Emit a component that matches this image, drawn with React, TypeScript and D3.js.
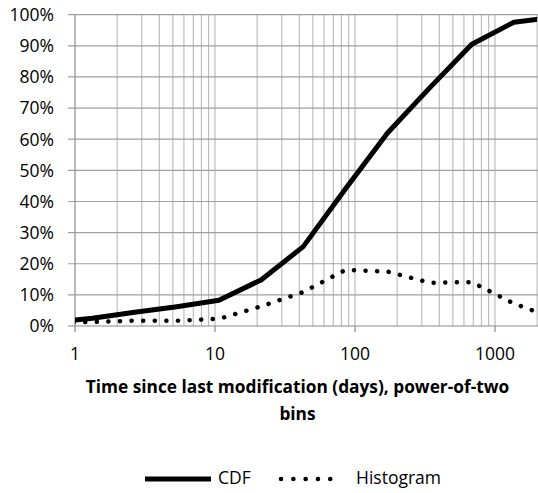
import React, { useEffect } from "react";
import * as d3 from "d3";

// x values: power-of-two bins in hours, expressed in days
const binDays = [0.667, 1.333, 2.667, 5.333, 10.667, 21.333, 42.667, 85.333, 170.667, 341.333, 682.667, 1365.333, 2730.667];
const cdfValues = [0.012, 0.025, 0.044, 0.062, 0.083, 0.148, 0.255, 0.44, 0.62, 0.765, 0.905, 0.976, 0.993];
const histValues = [0.011, 0.013, 0.017, 0.017, 0.023, 0.063, 0.109, 0.18, 0.175, 0.139, 0.141, 0.072, 0.023];
const yTicks = [0, 0.1, 0.2, 0.3, 0.4, 0.5, 0.6, 0.7, 0.8, 0.9, 1.0];
const xMajorTicks = [1, 10, 100, 1000];
const xTitleLines = ["Time since last modification (days), power-of-two", "bins"];
const seriesNames = ["CDF", "Histogram"];

const W = 538;
const H = 493;
const left = 75;
const top = 14.7;
const bottom = 326;
const xMax = 2000;
const right = left + 140 * Math.log10(xMax);

export default function App() {
  useEffect(() => {
    document.body.style.margin = "0";
  }, []);

  const x = d3.scaleLog().domain([1, xMax]).range([left, right]);
  const y = d3.scaleLinear().domain([0, 1]).range([bottom, top]);

  const minorTicks: number[] = [];
  for (let d = 1; d <= 1000; d *= 10) {
    for (let m = 1; m <= 9; m++) {
      const v = d * m;
      if (v > 1 && v <= xMax) minorTicks.push(v);
    }
  }

  const line = d3
    .line<number>()
    .x((_, i) => x(binDays[i]))
    .y((v) => y(v));

  const font = "'Open Sans', sans-serif";
  const axis = "#8a8a8a";

  return (
    <svg width={W} height={H} style={{ display: "block", background: "#fff" }}>
      <defs>
        <clipPath id="plot">
          <rect x={left} y={0} width={right - left} height={bottom} />
        </clipPath>
      </defs>
      {minorTicks.map((v) => (
        <line key={"v" + v} x1={x(v)} x2={x(v)} y1={top} y2={bottom} stroke="#bdbdbd" strokeWidth={1.2} />
      ))}
      {yTicks.map((t) => (
        <line key={"h" + t} x1={left - 7} x2={W} y1={y(t)} y2={y(t)} stroke={t === 0 ? axis : "#a0a0a0"} strokeWidth={1.2} />
      ))}
      <line x1={left} x2={left} y1={top} y2={bottom} stroke={axis} strokeWidth={1.2} />
      {xMajorTicks.map((t) => (
        <line key={"xt" + t} x1={x(t)} x2={x(t)} y1={bottom} y2={bottom + 6} stroke={axis} strokeWidth={1.2} />
      ))}
      {yTicks.map((t) => (
        <text key={"yl" + t} x={54} y={y(t)} dy="0.36em" textAnchor="end" fontFamily={font} fontSize={17.5} fill="#000">
          {d3.format(".0%")(t)}
        </text>
      ))}
      {xMajorTicks.map((t) => (
        <text key={"xl" + t} x={x(t)} y={359.5} textAnchor="middle" fontFamily={font} fontSize={17.5} fill="#000">
          {t}
        </text>
      ))}
      <g clipPath="url(#plot)">
        <path d={line(histValues) || ""} fill="none" stroke="#000" strokeWidth={4.5} strokeLinecap="round" strokeDasharray="0.1 11.5" />
        <path d={line(cdfValues) || ""} fill="none" stroke="#000" strokeWidth={5} strokeLinejoin="round" />
      </g>
      {xTitleLines.map((s, i) => (
        <text key={"tt" + i} x={297.5} y={392.5 + i * 27} textAnchor="middle" fontFamily={font} fontWeight="bold" fontSize={17.3} fill="#000">
          {s}
        </text>
      ))}
      <line x1={145} x2={211} y1={479} y2={479} stroke="#000" strokeWidth={5} />
      <text x={218} y={484} fontFamily={font} fontSize={17.5} fill="#000">{seriesNames[0]}</text>
      <line x1={281} x2={342} y1={479} y2={479} stroke="#000" strokeWidth={4.5} strokeLinecap="round" strokeDasharray="0.1 12.2" />
      <text x={356} y={484} fontFamily={font} fontSize={17.5} fill="#000">{seriesNames[1]}</text>
    </svg>
  );
}
